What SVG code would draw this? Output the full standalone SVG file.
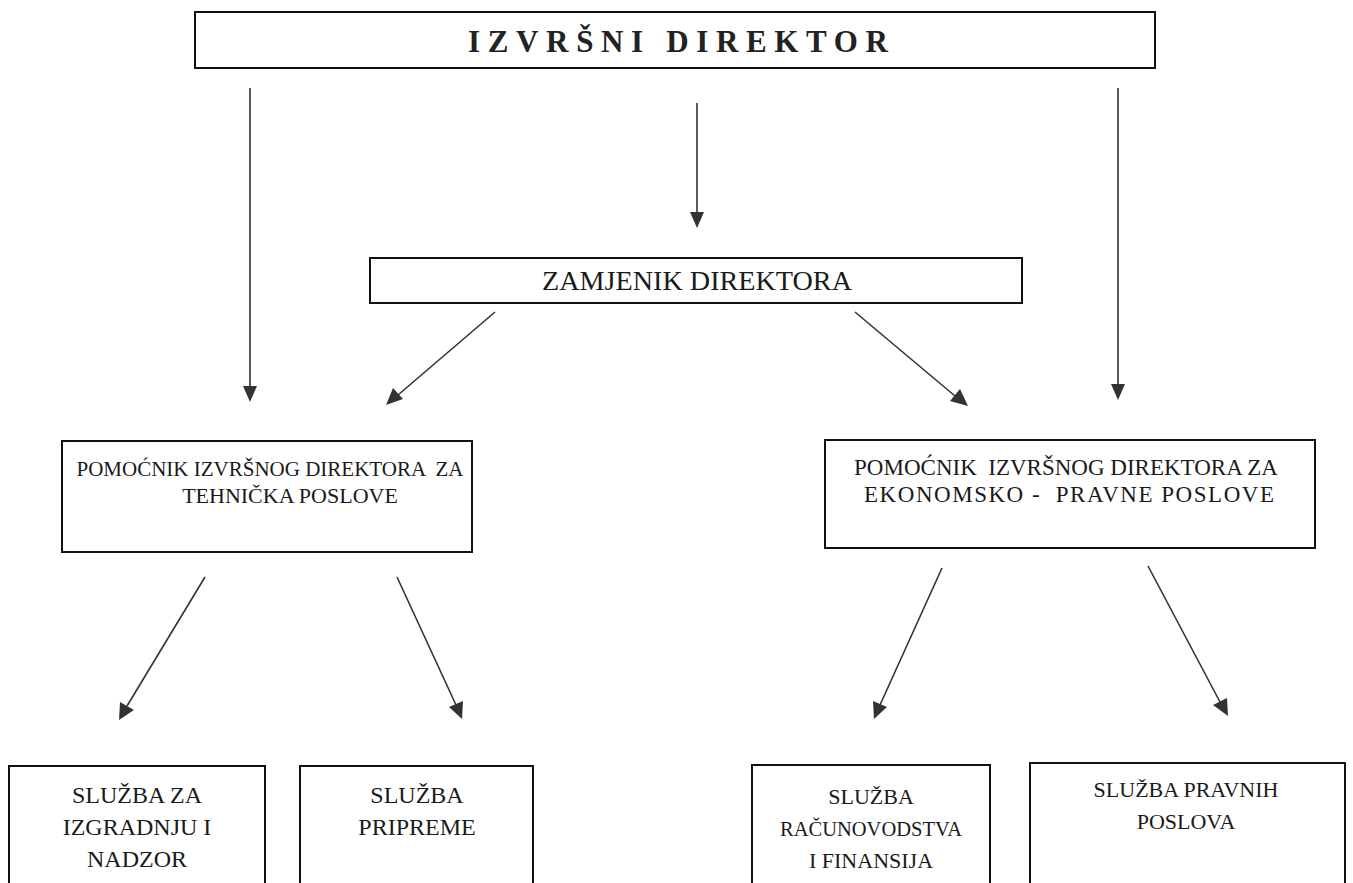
<svg xmlns="http://www.w3.org/2000/svg" width="1353" height="883" viewBox="0 0 1353 883">
<defs>
<style>
.box{fill:#fff;stroke:#111;stroke-width:2}
.t{font-family:"Liberation Serif","Times New Roman",serif;fill:#1a1a1a;text-anchor:middle}
.s{font-size:21px}
.m{font-size:23px}
.b{font-size:24px}
.r{font-size:22px}
.ln{stroke:#333;stroke-width:1.6;fill:none}
.hd{fill:#333}
</style>
</defs>
<rect width="1353" height="883" fill="#fff"/>
<g id="connectors">
<line class="ln" x1="250" y1="88" x2="250" y2="388"/>
<path class="hd" d="M243,386 L257,386 L250,402 z"/>
<line class="ln" x1="697" y1="103" x2="697" y2="214"/>
<path class="hd" d="M690,212 L704,212 L697,228 z"/>
<line class="ln" x1="1118" y1="88" x2="1118" y2="386"/>
<path class="hd" d="M1111,384 L1125,384 L1118,400 z"/>
<line class="ln" x1="495" y1="312" x2="398" y2="395"/>
<path class="hd" d="M386,405 L393,388 L403,399 z"/>
<line class="ln" x1="855" y1="312" x2="955" y2="396"/>
<path class="hd" d="M968,406 L950,401 L960,389 z"/>
<line class="ln" x1="205" y1="577" x2="127" y2="706"/>
<path class="hd" d="M119,720 L120,702 L134,710 z"/>
<line class="ln" x1="397" y1="577" x2="456" y2="705"/>
<path class="hd" d="M462,719 L449,707 L463,701 z"/>
<line class="ln" x1="942" y1="568" x2="880" y2="705"/>
<path class="hd" d="M874,719 L873,701 L887,707 z"/>
<line class="ln" x1="1148" y1="566" x2="1220" y2="702"/>
<path class="hd" d="M1228,716 L1213,705 L1227,698 z"/>
</g>
<g id="izvrsni-direktor">
<rect class="box" x="195" y="12" width="960" height="56"/>
<text class="t" x="678" y="52" style="font-size:31px;font-weight:bold;fill:#222" textLength="420" lengthAdjust="spacing">IZVRŠNI DIREKTOR</text>
</g>
<g id="zamjenik-direktora">
<rect class="box" x="370" y="258" width="652" height="45"/>
<text class="t" x="697" y="290" style="font-size:27px" textLength="310" lengthAdjust="spacingAndGlyphs">ZAMJENIK DIREKTORA</text>
</g>
<g id="pomocnik-tehnicki">
<rect class="box" x="62" y="441" width="410" height="111"/>
<text class="t s" x="270" y="476" xml:space="preserve">POMOĆNIK IZVRŠNOG DIREKTORA  ZA</text>
<text class="t" x="290" y="503" style="font-size:22px">TEHNIČKA POSLOVE</text>
</g>
<g id="pomocnik-ekonomsko-pravni">
<rect class="box" x="825" y="440" width="490" height="108"/>
<text class="t m" x="1066" y="475" xml:space="preserve">POMOĆNIK  IZVRŠNOG DIREKTORA ZA</text>
<text class="t m" x="1069" y="502" xml:space="preserve" textLength="410" lengthAdjust="spacing">EKONOMSKO -  PRAVNE POSLOVE</text>
</g>
<g id="sluzba-izgradnja">
<rect class="box" x="9" y="766" width="256" height="130"/>
<text class="t b" x="137" y="803">SLUŽBA ZA</text>
<text class="t b" x="137" y="835">IZGRADNJU I</text>
<text class="t b" x="137" y="867">NADZOR</text>
</g>
<g id="sluzba-pripreme">
<rect class="box" x="300" y="766" width="233" height="130"/>
<text class="t b" x="417" y="803">SLUŽBA</text>
<text class="t b" x="417" y="835">PRIPREME</text>
</g>
<g id="sluzba-racunovodstva">
<rect class="box" x="752" y="765" width="238" height="130"/>
<text class="t r" x="871" y="804">SLUŽBA</text>
<text class="t r" x="871" y="836" textLength="182" lengthAdjust="spacingAndGlyphs">RAČUNOVODSTVA</text>
<text class="t r" x="871" y="868">I FINANSIJA</text>
</g>
<g id="sluzba-pravnih">
<rect class="box" x="1030" y="763" width="315" height="130"/>
<text class="t r" x="1186" y="797">SLUŽBA PRAVNIH</text>
<text class="t r" x="1186" y="829">POSLOVA</text>
</g>
</svg>
